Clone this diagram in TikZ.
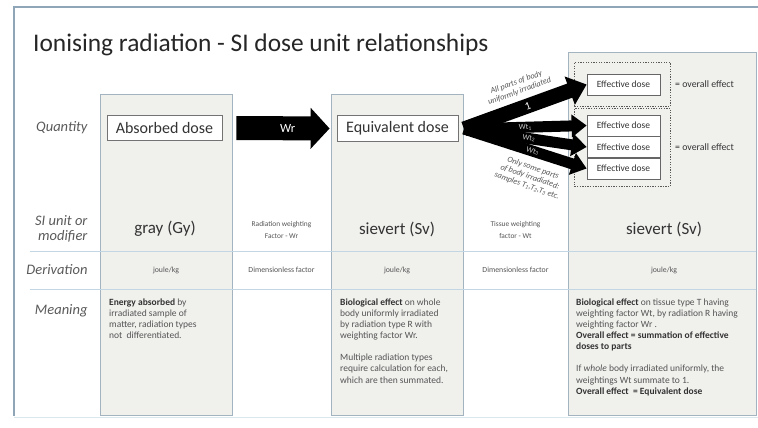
\documentclass[tikz,border=0pt]{standalone}
\usepackage{fontspec}
\setmainfont{Carlito}
\usetikzlibrary{arrows.meta,calc}
\definecolor{framec}{HTML}{8FA5B8}
\definecolor{colfill}{HTML}{F0F0ED}
\definecolor{coldraw}{HTML}{A3B3C0}
\definecolor{rowc}{HTML}{C3D6E4}
\definecolor{txt}{HTML}{333333}
\definecolor{lbl}{HTML}{5A5A5A}
\definecolor{soft}{HTML}{555555}
\tikzset{
  colbox/.style={draw=coldraw, fill=colfill, line width=0.8pt, inner sep=0pt, anchor=north west},
  rowline/.style={draw=rowc, line width=0.8pt},
  qbox/.style={draw=black!55, fill=white, line width=0.8pt, inner sep=0pt, text=txt, font=\fontsize{16}{19}\selectfont},
  effbox/.style={draw=black!60, fill=white, line width=0.7pt, inner sep=0pt, minimum width=73pt, minimum height=21pt, text=txt, font=\fontsize{9.5}{11}\selectfont},
  dashbox/.style={draw=black!65, line width=0.8pt, dash pattern=on 1.3pt off 1.3pt, inner sep=0pt, anchor=north west},
  rowlabel/.style={anchor=east, align=right, text=lbl, font=\fontsize{14.5}{15}\selectfont\itshape},
  unit/.style={text=txt, font=\fontsize{17}{20}\selectfont},
  small/.style={text=soft, align=center, font=\fontsize{7.4}{12}\selectfont},
  deriv/.style={text=soft, font=\fontsize{7.8}{9}\selectfont},
  meaning/.style={anchor=north west, align=left, text=soft, inner sep=0pt, font=\fontsize{9.5}{11.1}\selectfont},
  fat/.style={line width=#1, draw=black},
  note/.style={text=soft, align=center, inner sep=0pt, font=\fontsize{8.2}{9.4}\selectfont\itshape},
  wt/.style={text=black!20, inner sep=0pt, font=\fontsize{7.8}{8}\selectfont},
  overall/.style={text=txt, anchor=west, inner sep=0pt, font=\fontsize{9.8}{11}\selectfont},
}
\begin{document}
\begin{tikzpicture}[x=1pt,y=-1pt]
\useasboundingbox[fill=white] (0,0) rectangle (758,428);
% slide frame
\draw[framec, line width=1.6pt] (14,416) -- (14,7) -- (758,7);
\draw[rowc!60, line width=0.8pt] (14,417) -- (758,417);
% title
\node[anchor=base west, inner sep=0pt, text=black!85, font=\fontsize{25.4}{30}\selectfont] (title) at (33,52) {Ionising radiation - SI dose unit relationships};
% column boxes
\node[colbox, minimum width=132pt, minimum height=321pt] (col1) at (100,94) {};
\node[colbox, minimum width=132pt, minimum height=321pt] (col3) at (331,94) {};
\node[colbox, minimum width=188pt, minimum height=363pt] (col5) at (568,52) {};
% row separators
\draw[rowline] (30,251) -- (756,251);
\draw[rowline] (30,289) -- (756,289);
% row labels
\node[rowlabel] (lq) at (91,128) {Quantity};
\node[rowlabel] (ls) at (91,229) {SI unit or\\modifier};
\node[rowlabel] (ld) at (91,270) {Derivation};
\node[rowlabel] (lm) at (91,311) {Meaning};
% quantity boxes
\node[qbox, minimum width=115pt, minimum height=25pt] (abs) at (164.5,128) {Absorbed dose};
\node[qbox, minimum width=121pt, minimum height=26pt] (equ) at (397.5,128.5) {Equivalent dose};
% Wr arrow
\draw[fat=24pt, -{Triangle[length=19pt,width=40pt]}] ($(abs.east)+(14,0)$) -- ($(equ.west)+(-7,0)$)
  node[pos=0.55, text=white, font=\fontsize{12.5}{14}\selectfont] (wr) {Wr};
% dashed groups
\node[dashbox, minimum width=96pt, minimum height=44pt] (g1) at (574,62) {};
\node[dashbox, minimum width=96pt, minimum height=78pt] (g2) at (574,108) {};
% effective dose boxes
\node[effbox] (e1) at (623.5,84.5) {Effective dose};
\node[effbox] (e2) at (623.5,125.5) {Effective dose};
\node[effbox] (e3) at (623.5,147) {Effective dose};
\node[effbox] (e4) at (623.5,168.5) {Effective dose};
\node[overall] (o1) at (675,84.5) {= overall effect};
\node[overall] (o2) at (675,147) {= overall effect};
% fan arrows
\coordinate (fan) at (464,129);
\draw[fat=15pt, -{Triangle[length=18pt,width=29pt]}] (fan) -- (e1.west)
  node[pos=0.52, sloped, text=white, font=\fontsize{11}{12}\selectfont] (one) {1};
\draw[fat=11pt, -{Triangle[length=15pt,width=22pt]}] (fan) -- (e2.west)
  node[pos=0.50, sloped, wt] (w1) {Wt\textsubscript{1}};
\draw[fat=11pt, -{Triangle[length=15pt,width=22pt]}] (fan) -- (e3.west)
  node[pos=0.53, sloped, wt] (w2) {Wt\textsubscript{2}};
\draw[fat=11pt, -{Triangle[length=15pt,width=22pt]}] (fan) -- (e4.west)
  node[pos=0.56, sloped, wt] (w3) {Wt\textsubscript{3}};
\node[note, rotate=20] (allp) at (518,87) {All parts of body\\uniformly irradiated};
\node[note, rotate=-19] (somep) at (530,177) {Only some parts\\of body irradiated:\\samples T\textsubscript{1},T\textsubscript{2},T\textsubscript{3} etc.};
% SI unit row
\node[unit] (u1) at (165,229) {gray (Gy)};
\node[small] (u2) at (281.5,229.5) {Radiation weighting\\Factor - Wr};
\node[unit] (u3) at (397,229) {sievert (Sv)};
\node[small] (u4) at (515.5,229.5) {Tissue weighting\\factor - Wt};
\node[unit] (u5) at (664,229) {sievert (Sv)};
% derivation row
\node[deriv] (d1) at (166,270) {joule/kg};
\node[deriv] (d2) at (281.5,270) {Dimensionless factor};
\node[deriv] (d3) at (397,270) {joule/kg};
\node[deriv] (d4) at (515.5,270) {Dimensionless factor};
\node[deriv] (d5) at (664,270) {joule/kg};
% meaning row
\node[meaning] (m1) at (109,298.5) {\textcolor{txt}{\textbf{Energy absorbed}} by\\irradiated sample of\\matter, radiation types\\not\ \ differentiated.};
\node[meaning] (m3) at (340,298.5) {\textcolor{txt}{\textbf{Biological effect}} on whole\\body uniformly irradiated\\by radiation type R with\\weighting factor Wr.\\[11.1pt]Multiple radiation types\\require calculation for each,\\which are then summated.};
\node[meaning] (m5) at (576,298.5) {\textcolor{txt}{\textbf{Biological effect}} on tissue type T having\\weighting factor Wt, by radiation R having\\weighting factor Wr .\\\textcolor{txt}{\textbf{Overall effect = summation of effective}}\\\textcolor{txt}{\textbf{doses to parts}}\\[11.1pt]If \textit{whole} body irradiated uniformly, the\\weightings Wt summate to 1.\\\textcolor{txt}{\textbf{Overall effect\ \ = Equivalent dose}}};
\end{tikzpicture}
\end{document}
